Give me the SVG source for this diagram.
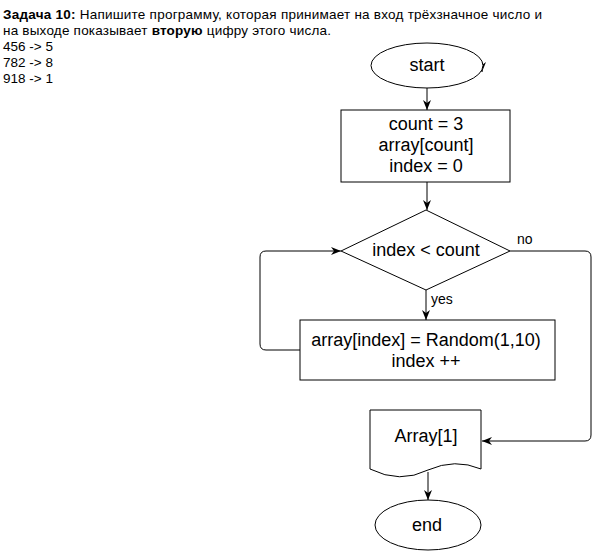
<svg xmlns="http://www.w3.org/2000/svg" width="599" height="551" viewBox="0 0 599 551">
<style>
.shape{fill:#fff;stroke:#000;stroke-width:1}
.lbl{font-family:"Liberation Sans",Arial,sans-serif;font-size:18px;fill:#000;text-anchor:middle;dominant-baseline:central}
.small{font-family:"Liberation Sans",Arial,sans-serif;font-size:14px;fill:#000}
.note{font-family:"Liberation Sans",Arial,sans-serif;font-size:13.5px;fill:#000}
.edge{fill:none;stroke:#000;stroke-width:1}
</style>
<defs>
<marker id="arr" viewBox="0 0 10 10" refX="10" refY="5" markerWidth="10" markerHeight="10" markerUnits="userSpaceOnUse" orient="auto">
<path d="M0,1 L10,5 L0,9 L3,5 Z" fill="#000"/>
</marker>
</defs>
<rect width="599" height="551" fill="#fff"/>
<g id="task-text" class="note">
<text x="3" y="19" textLength="539"><tspan font-weight="bold">Задача 10:</tspan> Напишите программу, которая принимает на вход трёхзначное число и</text>
<text x="3" y="35" textLength="328">на выходе показывает <tspan font-weight="bold">вторую</tspan> цифру этого числа.</text>
<text x="3" y="51">456 -&gt; 5</text>
<text x="3" y="67">782 -&gt; 8</text>
<text x="3" y="83">918 -&gt; 1</text>
</g>
<g id="connectors">
<path class="edge" d="M482,62 L482,72" marker-end="url(#arr)"/>
<path class="edge" d="M427,88 L427,110" marker-end="url(#arr)"/>
<path class="edge" d="M427,182 L427,210" marker-end="url(#arr)"/>
<path class="edge" d="M426,290 L426,320" marker-end="url(#arr)"/>
<path class="edge" d="M300,350 L266,350 Q260,350 260,344 L260,257 Q260,251 266,251 L341,251" marker-end="url(#arr)"/>
<path class="edge" d="M510,251 L585,251 Q591,251 591,257 L591,435 Q591,441 585,441 L482,441" marker-end="url(#arr)"/>
<path class="edge" d="M428,472 L428,500" marker-end="url(#arr)"/>
<text class="small" x="517" y="244">no</text>
<text class="small" x="431" y="304">yes</text>
</g>
<g id="start">
<ellipse class="shape" cx="427" cy="65.5" rx="56" ry="22.5"/>
<text class="lbl" x="427" y="65">start</text>
</g>
<g id="init">
<rect class="shape" x="341" y="110" width="169" height="72"/>
<text class="lbl" x="426" y="124">count = 3</text>
<text class="lbl" x="426" y="145">array[count]</text>
<text class="lbl" x="426" y="166">index = 0</text>
</g>
<g id="cond">
<path class="shape" d="M426,210 L510,251 L426,290 L341,251 Z"/>
<text class="lbl" x="426" y="250">index &lt; count</text>
</g>
<g id="body">
<rect class="shape" x="300" y="320" width="255" height="60"/>
<text class="lbl" x="426" y="340">array[index] = Random(1,10)</text>
<text class="lbl" x="426" y="361">index ++</text>
</g>
<g id="output">
<path class="shape" d="M370,410 L481,410 L481,469 Q455,458 428,470 Q400,484 370,469 Z"/>
<text class="lbl" x="426" y="436">Array[1]</text>
</g>
<g id="end">
<ellipse class="shape" cx="428" cy="525" rx="53" ry="25"/>
<text class="lbl" x="427" y="525">end</text>
</g>
</svg>
